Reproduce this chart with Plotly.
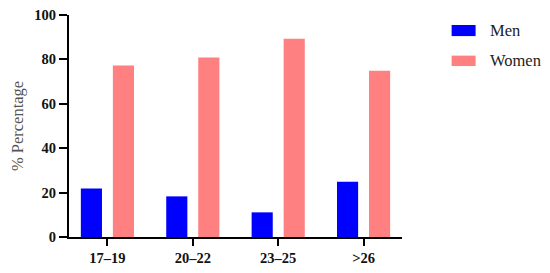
import plotly.graph_objects as go

categories = ["17–19", "20–22", "23–25", ">26"]
series_names = ["Men", "Women"]
men = [21.8, 18.3, 11.1, 24.9]
women = [77.3, 80.8, 89.3, 74.9]
colors = ["#0000FF", "#FF8080"]
y_ticks = [0, 20, 40, 60, 80, 100]

FONT = "Liberation Serif, Times New Roman, serif"

fig = go.Figure()
for name, vals, col in zip(series_names, [men, women], colors):
    fig.add_trace(go.Bar(x=categories, y=vals, name=name, marker=dict(color=col, line=dict(width=0)),
                         showlegend=False))

# manual legend (wide swatches like the reference)
legend_y = [(0.955, 0.905, 0.928), (0.817, 0.770, 0.793)]
for (y1, y0, yt), name, col in zip(legend_y, series_names, colors):
    fig.add_shape(type="rect", xref="paper", yref="paper", x0=1.149, x1=1.221, y0=y0, y1=y1,
                  fillcolor=col, line=dict(width=0))
    fig.add_annotation(xref="paper", yref="paper", x=1.258, y=yt, text=name, showarrow=False,
                       xanchor="left", yanchor="middle", font=dict(family=FONT, size=16.5, color="#222222"))

fig.update_layout(
    width=550, height=273,
    margin=dict(l=61, r=156, t=7, b=44, autoexpand=False),
    paper_bgcolor="white", plot_bgcolor="white",
    barmode="group", bargap=0.25, bargroupgap=0.34,
    font=dict(family=FONT),
)
fig.update_xaxes(
    type="category", range=[-0.45, 3.45], automargin=False, ticklabeloverflow="allow",
    showline=True, linecolor="black", linewidth=2,
    ticks="outside", ticklen=7, tickwidth=2, tickcolor="black",
    tickfont=dict(family=FONT, size=14.5, color="#111111", weight="bold"),
    showgrid=False, zeroline=False,
)
fig.update_yaxes(
    range=[0, 100], tickvals=y_ticks, automargin=False, ticklabeloverflow="allow",
    showline=True, linecolor="black", linewidth=2,
    ticks="outside", ticklen=8, tickwidth=2, tickcolor="black",
    tickfont=dict(family=FONT, size=14.5, color="#111111", weight="bold"),
    showgrid=False, zeroline=False,
    title=dict(text="% Percentage", font=dict(family=FONT, size=16.5, color="#555555"), standoff=8),
)

fig.write_html("out.html")
